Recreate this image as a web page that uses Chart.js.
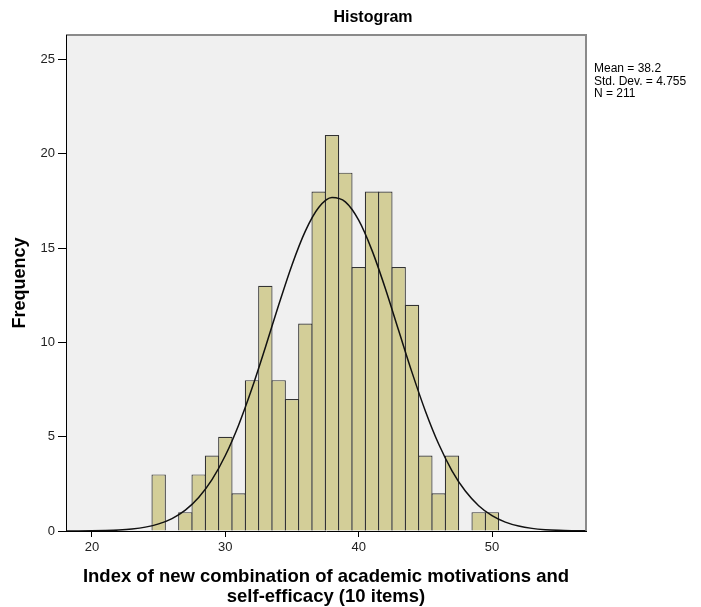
<!DOCTYPE html>
<html>
<head>
<meta charset="utf-8">
<script src="https://cdn.jsdelivr.net/npm/chart.js@4.4.1/dist/chart.umd.min.js"></script>
<style>
  html, body { margin: 0; padding: 0; background: #ffffff; }
  #wrap { width: 701px; height: 607px; position: relative; }
</style>
</head>
<body>
<div id="wrap"><canvas id="c" width="701" height="607"></canvas></div>
<script>
// ---- data ----
const binCenters = [25,26,27,28,29,30,31,32,33,34,35,36,37,38,39,40,41,42,43,44,45,46,47,48,49,50];
const frequencies = [3,null,1,3,4,5,2,8,13,8,7,11,18,21,19,14,18,18,14,12,4,2,4,null,1,1];
const curveX = [18,19,20,21,22,23,24,25,26,27,28,29,30,31,32,33,34,35,36,37,38,39,40,41,42,43,44,45,46,47,48,49,50,51,52,53,54,55,56,57];
const curveY = [0.002,0.005,0.012,0.026,0.053,0.107,0.205,0.376,0.659,1.105,1.774,2.723,4.002,5.625,7.565,9.733,11.98,14.11,15.90,17.15,17.68,17.45,16.48,14.88,12.86,10.63,8.411,6.366,4.610,3.193,2.117,1.342,0.814,0.472,0.262,0.139,0.071,0.034,0.016,0.007];
const xTickValues = [20,30,40,50];
const yTickValues = [0,5,10,15,20,25];
const statsLines = ['Mean = 38.2', 'Std. Dev. = 4.755', 'N = 211'];
const chartTitle = 'Histogram';
const xTitle = ['Index of new combination of academic motivations and', 'self-efficacy (10 items)'];
const yTitle = 'Frequency';

const FONT = "'Liberation Sans', Arial, sans-serif";

const framePlugin = {
  id: 'frame',
  beforeDraw(chart) {
    const {ctx, chartArea: a} = chart;
    ctx.save();
    ctx.fillStyle = '#f0f0f0';
    ctx.fillRect(a.left, a.top, a.right - a.left, a.bottom - a.top);
    ctx.strokeStyle = '#8a8a8a';
    ctx.lineWidth = 2;
    ctx.beginPath();
    ctx.moveTo(a.left, a.top);
    ctx.lineTo(a.right, a.top);
    ctx.lineTo(a.right, a.bottom);
    ctx.stroke();
    ctx.restore();
  },
  afterDraw(chart) {
    const {ctx, chartArea: a} = chart;
    ctx.save();
    ctx.fillStyle = '#000';
    ctx.font = 'bold 16px ' + FONT;
    ctx.textAlign = 'center';
    ctx.textBaseline = 'middle';
    ctx.fillText(chartTitle, a.left + 307, 18);
    ctx.font = '12px ' + FONT;
    ctx.textAlign = 'left';
    ctx.textBaseline = 'middle';
    statsLines.forEach((s, i) => ctx.fillText(s, a.right + 8, a.top + 34 + i * 12.5));
    ctx.restore();
  }
};

new Chart(document.getElementById('c'), {
  type: 'bar',
  data: {
    datasets: [
      {
        type: 'line',
        data: curveX.map((x, i) => ({x: x, y: curveY[i]})),
        borderColor: '#111',
        borderWidth: 1.5,
        pointRadius: 0,
        cubicInterpolationMode: 'monotone',
        fill: false,
        order: 1
      },
      {
        type: 'bar',
        data: binCenters.map((x, i) => ({x: x, y: frequencies[i]})),
        backgroundColor: '#d3ce98',
        borderColor: '#333333',
        borderWidth: 1.2,
        barPercentage: 1.08,
        categoryPercentage: 1,
        order: 2
      }
    ]
  },
  options: {
    responsive: false,
    animation: false,
    layout: { padding: { left: 0, right: 115, top: 35, bottom: 0 } },
    plugins: { legend: { display: false }, tooltip: { enabled: false }, title: { display: false } },
    scales: {
      x: {
        type: 'linear',
        min: 18.05,
        max: 57.05,
        offset: false,
        afterBuildTicks: s => { s.ticks = xTickValues.map(v => ({value: v})); },
        afterFit: s => { s.height = 76; },
        ticks: { color: '#222', font: { family: FONT, size: 13 }, padding: 3, maxRotation: 0, autoSkip: false },
        grid: { display: true, drawOnChartArea: false, drawTicks: true, tickLength: 6, color: '#000', offset: false },
        border: { display: true, color: '#000', width: 1 },
        title: { display: true, text: xTitle, color: '#000', font: { family: FONT, size: 18.5, weight: 'bold', lineHeight: 1.08 }, padding: { top: 0, bottom: 0 } }
      },
      y: {
        min: 0,
        max: 26.3,
        afterBuildTicks: s => { s.ticks = yTickValues.map(v => ({value: v})); },
        afterFit: s => { s.width = 66; },
        ticks: { color: '#222', font: { family: FONT, size: 13 }, padding: 3 },
        grid: { display: true, drawOnChartArea: false, drawTicks: true, tickLength: 8, color: '#000' },
        border: { display: true, color: '#000', width: 1 },
        title: { display: true, text: yTitle, color: '#000', font: { family: FONT, size: 18, weight: 'bold', lineHeight: 1.2 }, padding: { top: 9, bottom: 0 } }
      }
    }
  },
  plugins: [framePlugin]
});
</script>
</body>
</html>
